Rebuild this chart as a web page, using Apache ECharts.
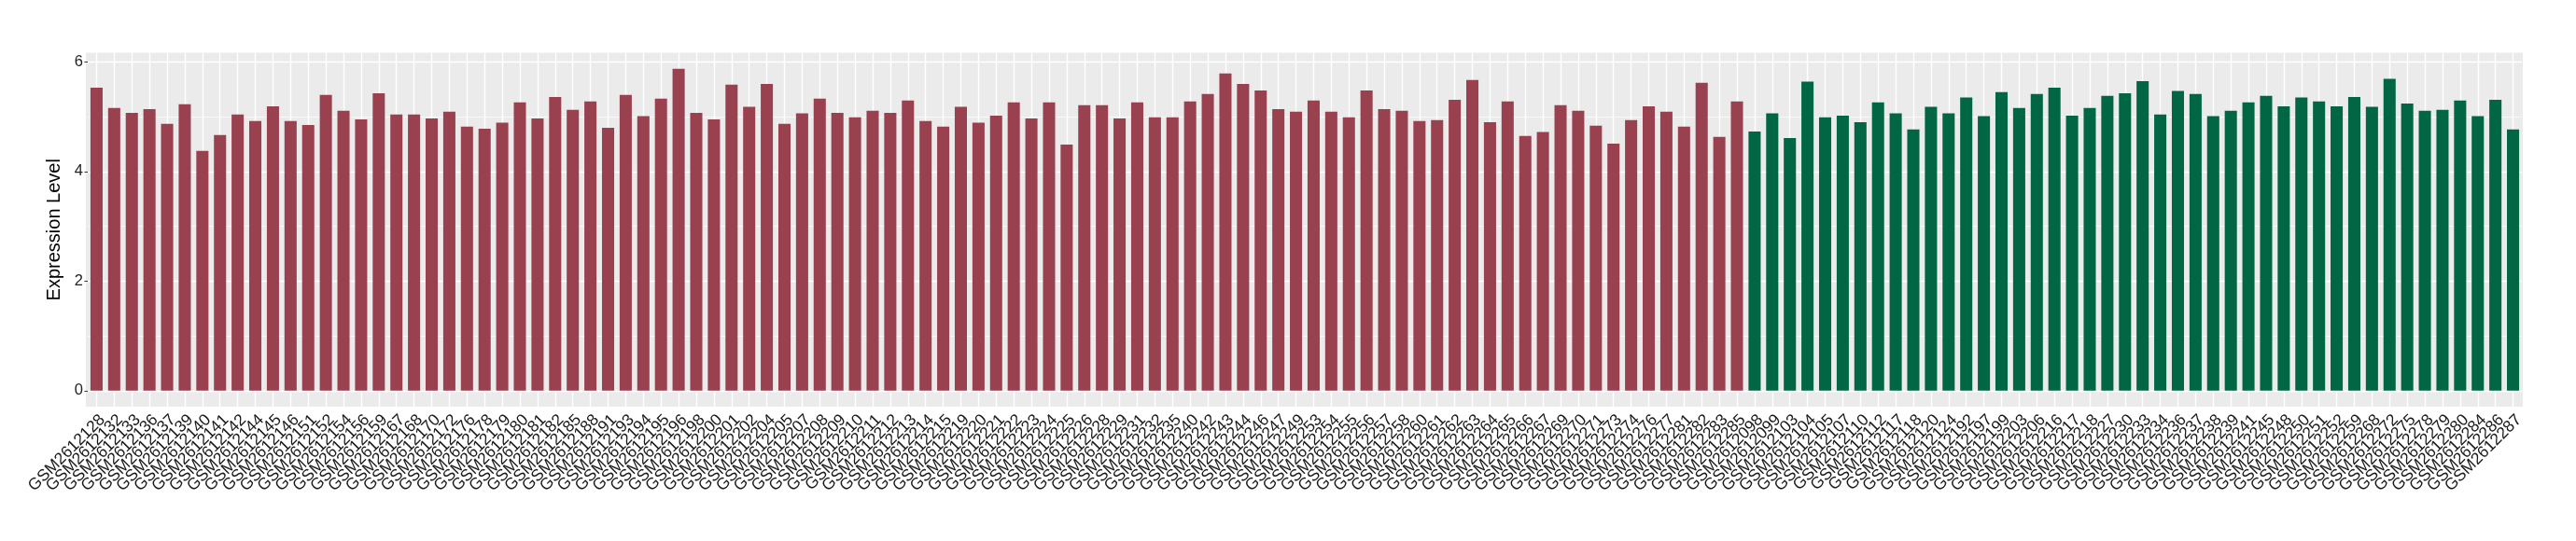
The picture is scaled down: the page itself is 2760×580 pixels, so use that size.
<!DOCTYPE html>
<html>
<head>
<meta charset="utf-8">
<script src="https://cdn.jsdelivr.net/npm/echarts@6/dist/echarts.min.js"></script>
<style>
html,body{margin:0;padding:0;background:#fff;}
#chart{width:2760px;height:580px;}
</style>
</head>
<body>
<div id="chart"></div>
<script>
// ---- data ----
const samplesA = ["GSM2612128","GSM2612132","GSM2612133","GSM2612136","GSM2612137","GSM2612139","GSM2612140","GSM2612141","GSM2612142","GSM2612144",
"GSM2612145","GSM2612146","GSM2612151","GSM2612152","GSM2612154","GSM2612156","GSM2612159","GSM2612167","GSM2612168","GSM2612170",
"GSM2612172","GSM2612176","GSM2612178","GSM2612179","GSM2612180","GSM2612181","GSM2612182","GSM2612185","GSM2612188","GSM2612191",
"GSM2612193","GSM2612194","GSM2612195","GSM2612196","GSM2612198","GSM2612200","GSM2612201","GSM2612202","GSM2612204","GSM2612205",
"GSM2612207","GSM2612208","GSM2612209","GSM2612210","GSM2612211","GSM2612212","GSM2612213","GSM2612214","GSM2612215","GSM2612219",
"GSM2612220","GSM2612221","GSM2612222","GSM2612223","GSM2612224","GSM2612225","GSM2612226","GSM2612228","GSM2612229","GSM2612231",
"GSM2612232","GSM2612235","GSM2612240","GSM2612242","GSM2612243","GSM2612244","GSM2612246","GSM2612247","GSM2612249","GSM2612253",
"GSM2612254","GSM2612255","GSM2612256","GSM2612257","GSM2612258","GSM2612260","GSM2612261","GSM2612262","GSM2612263","GSM2612264",
"GSM2612265","GSM2612266","GSM2612267","GSM2612269","GSM2612270","GSM2612271","GSM2612273","GSM2612274","GSM2612276","GSM2612277",
"GSM2612281","GSM2612282","GSM2612283","GSM2612285"];
const valuesA = [5.53,5.16,5.07,5.14,4.87,5.23,4.375,4.665,5.04,4.92,
5.19,4.92,4.85,5.40,5.11,4.95,5.43,5.04,5.04,4.97,
5.09,4.82,4.78,4.89,5.26,4.97,5.36,5.125,5.28,4.80,
5.40,5.01,5.33,5.875,5.07,4.95,5.585,5.18,5.60,4.87,
5.06,5.33,5.07,4.99,5.11,5.07,5.295,4.92,4.82,5.18,
4.89,5.02,5.26,4.97,5.26,4.49,5.21,5.21,4.97,5.26,
4.99,4.99,5.28,5.415,5.79,5.60,5.48,5.14,5.09,5.295,
5.09,4.99,5.48,5.14,5.11,4.92,4.94,5.31,5.67,4.90,
5.28,4.65,4.72,5.21,5.11,4.835,4.51,4.94,5.19,5.09,
4.82,5.62,4.63,5.28];
const samplesB = ["GSM2612098","GSM2612099","GSM2612103","GSM2612104","GSM2612105","GSM2612107","GSM2612110","GSM2612112","GSM2612117","GSM2612118",
"GSM2612120","GSM2612124","GSM2612192","GSM2612197","GSM2612199","GSM2612203","GSM2612206","GSM2612216","GSM2612217","GSM2612218",
"GSM2612227","GSM2612230","GSM2612233","GSM2612234","GSM2612236","GSM2612237","GSM2612238","GSM2612239","GSM2612241","GSM2612245",
"GSM2612248","GSM2612250","GSM2612251","GSM2612252","GSM2612259","GSM2612268","GSM2612272","GSM2612275","GSM2612278","GSM2612279",
"GSM2612280","GSM2612284","GSM2612286","GSM2612287"];
const valuesB = [4.73,5.06,4.61,5.64,4.99,5.02,4.90,5.26,5.06,4.77,
5.18,5.06,5.35,5.01,5.45,5.16,5.415,5.53,5.02,5.16,
5.38,5.43,5.65,5.04,5.47,5.415,5.01,5.11,5.26,5.38,
5.19,5.35,5.28,5.19,5.36,5.18,5.69,5.24,5.11,5.125,
5.295,5.01,5.31,4.77];
const yTicks = [0, 2, 4, 6];
const yMinorTicks = [1, 3, 5];
const yTitle = "Expression Level";

// ---- build ----
const categories = samplesA.concat(samplesB);
const seriesA = valuesA.concat(samplesB.map(() => null));
const seriesB = samplesA.map(() => null).concat(valuesB);
const allVals = valuesA.concat(valuesB);
const vmax = Math.max.apply(null, allVals);
const pad = vmax * 0.05;

const FONT = "'Liberation Sans', Arial, sans-serif";
const PANEL = {x: 92, y: 56.5, w: 2611, h: 379.5};

const chart = echarts.init(document.getElementById('chart'), null, {renderer: 'canvas'});
chart.setOption({
  animation: false,
  backgroundColor: '#ffffff',
  textStyle: {fontFamily: FONT},
  graphic: [{
    type: 'rect', z: -10, silent: true,
    shape: {x: PANEL.x, y: PANEL.y, width: PANEL.w, height: PANEL.h},
    style: {fill: '#EBEBEB'}
  }],
  grid: {left: 94, right: 58, top: 56.5, bottom: 144, containLabel: false, show: false},
  xAxis: {
    type: 'category',
    data: categories,
    boundaryGap: true,
    axisLine: {show: false},
    axisTick: {show: true, alignWithLabel: true, length: 3.5, lineStyle: {color: '#333333', width: 1}},
    splitLine: {show: false},
    axisLabel: {
      interval: 0, rotate: 45, margin: 5,
      color: '#1A1A1A', fontSize: 17.5, fontFamily: FONT,
      align: 'right', verticalAlign: 'top'
    }
  },
  yAxis: {
    type: 'value',
    min: -pad, max: vmax + pad,
    name: yTitle, nameLocation: 'middle', nameGap: 20, nameRotate: 90,
    nameTextStyle: {color: '#000000', fontSize: 20, fontFamily: FONT},
    axisLine: {show: false},
    axisTick: {show: true, length: 3.5, customValues: yTicks, lineStyle: {color: '#333333', width: 1}},
    axisLabel: {customValues: yTicks, color: '#222222', fontSize: 16.5, margin: 5, fontFamily: FONT},
    splitLine: {show: false}
  },
  series: [
    {
      type: 'line', data: [], silent: true, z: 1,
      markLine: {
        z: 1, silent: true, symbol: 'none', animation: false,
        label: {show: false},
        data: []
          .concat(yTicks.map(v => ({yAxis: v, lineStyle: {color: '#ffffff', width: 1.4, type: 'solid'}})))
          .concat(yMinorTicks.map(v => ({yAxis: v, lineStyle: {color: '#ffffff', width: 0.7, type: 'solid'}})))
          .concat(categories.map(c => ({xAxis: c, lineStyle: {color: '#ffffff', width: 1.4, type: 'solid'}})))
      }
    },
    {
      type: 'bar', name: 'A', data: seriesA, z: 2,
      barWidth: '69%', barGap: '-100%',
      itemStyle: {color: '#9A4150'}
    },
    {
      type: 'bar', name: 'B', data: seriesB, z: 2,
      barWidth: '69%', barGap: '-100%',
      itemStyle: {color: '#006644'}
    }
  ]
});
</script>
</body>
</html>
